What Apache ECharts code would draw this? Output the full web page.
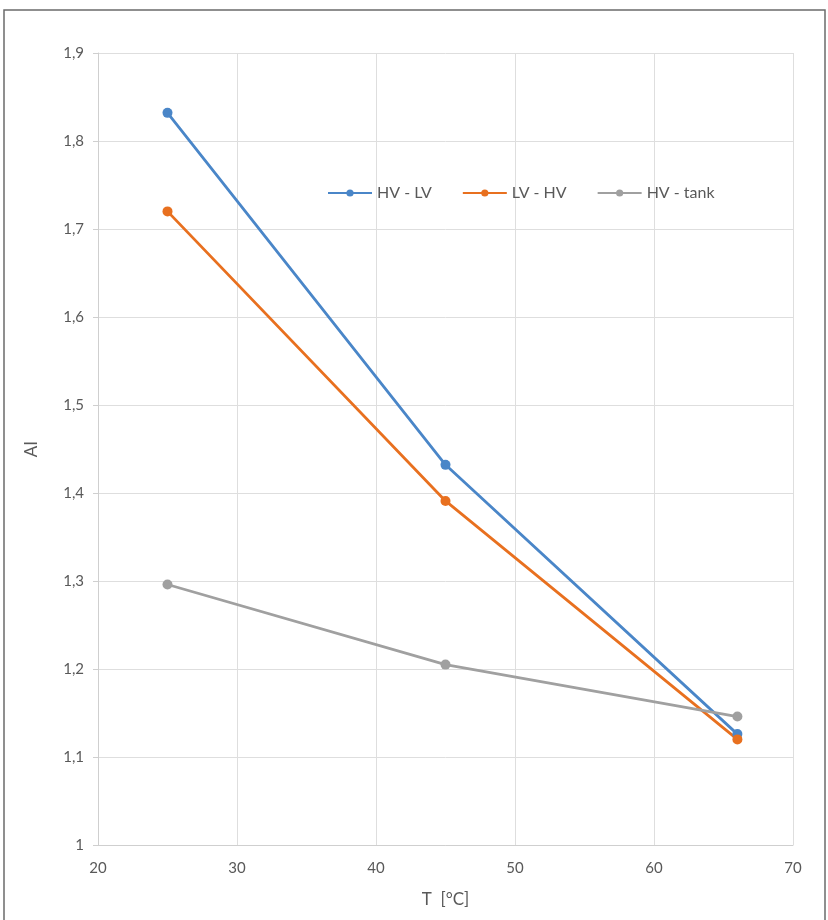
<!DOCTYPE html>
<html>
<head>
<meta charset="UTF-8">
<title>AI vs T</title>
<style>
  body { margin: 0; background: #fff; }
</style>
</head>
<body>
<div id="chart" style="width: 828px; height: 920px;"></div>
<script src="https://cdn.jsdelivr.net/npm/echarts@6/dist/echarts.min.js"></script>
<script>
// temperatures (°C) where AI was measured
var temps = [25, 45, 66];
var hvLv = [1.832, 1.432, 1.126];
var lvHv = [1.72, 1.391, 1.12];
var hvTank = [1.296, 1.205, 1.146];
var seriesNames = ['HV - LV', 'LV - HV', 'HV - tank'];

function pairs(xs, ys) {
  return xs.map(function (x, i) { return [x, ys[i]]; });
}

var chart = echarts.init(document.getElementById('chart'));
var font = 'Lato';
var lineSeries = function (name, data, color) {
  return {
    name: name,
    type: 'line',
    data: pairs(temps, data),
    symbol: 'circle',
    symbolSize: 10,
    lineStyle: { width: 2.8, color: color },
    itemStyle: { color: color },
    z: 3
  };
};

var option = {
  backgroundColor: '#fff',
  animation: false,
  color: ['#4a86c8', '#e8701f', '#a0a0a0'],
  graphic: [{
    type: 'rect',
    shape: { x: 4, y: 10, width: 821, height: 930 },
    style: { fill: 'none', stroke: '#6b6b6b', lineWidth: 1.5 },
    silent: true
  }],
  legend: {
    data: seriesNames,
    left: 322,
    top: 180,
    itemWidth: 44,
    itemHeight: 9,
    itemGap: 30,
    textStyle: { fontFamily: font, fontSize: 16, color: '#595959' }
  },
  grid: {
    left: 98,
    right: 35,
    top: 53,
    bottom: 75
  },
  xAxis: {
    type: 'value',
    min: 20,
    max: 70,
    interval: 10,
    name: 'T  [°C]',
    nameLocation: 'middle',
    nameGap: 46,
    nameTextStyle: { fontFamily: font, fontSize: 17, color: '#595959' },
    axisLine: { lineStyle: { color: '#cfcfcf' } },
    axisTick: { show: false },
    axisLabel: { fontFamily: font, fontSize: 15, color: '#595959', margin: 16 },
    splitLine: { lineStyle: { color: '#dedede' } }
  },
  yAxis: {
    type: 'value',
    min: 1,
    max: 1.9,
    interval: 0.1,
    name: 'AI',
    nameLocation: 'middle',
    nameGap: 58,
    nameTextStyle: { fontFamily: font, fontSize: 17, color: '#595959' },
    axisLine: { show: true, lineStyle: { color: '#cfcfcf' } },
    axisTick: { show: true, length: 5, lineStyle: { color: '#cfcfcf' } },
    axisLabel: {
      fontFamily: font,
      fontSize: 15,
      color: '#595959',
      margin: 14,
      formatter: function (v) {
        return (Math.round(v * 10) / 10).toString().replace('.', ',');
      }
    },
    splitLine: { lineStyle: { color: '#dedede' } }
  },
  series: [
    lineSeries(seriesNames[0], hvLv, '#4a86c8'),
    lineSeries(seriesNames[1], lvHv, '#e8701f'),
    lineSeries(seriesNames[2], hvTank, '#a0a0a0')
  ]
};
chart.setOption(option);
</script>
</body>
</html>
